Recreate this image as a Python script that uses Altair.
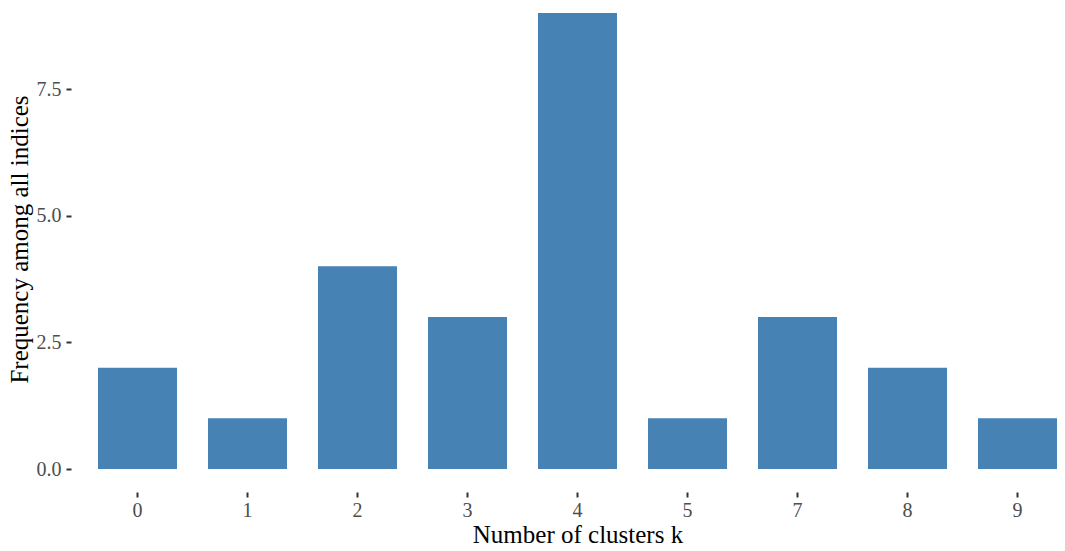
import altair as alt
import pandas as pd

categories = ["0", "1", "2", "3", "4", "5", "7", "8", "9"]
frequencies = [2, 1, 4, 3, 9, 1, 3, 2, 1]
y_ticks = [0, 2.5, 5, 7.5]

df = pd.DataFrame({"k": categories, "freq": frequencies})

FONT = "Liberation Serif"

chart = alt.Chart(df).mark_bar(color="#4682B4").encode(
    x=alt.X(
        "k:N",
        sort=categories,
        title="Number of clusters k",
        scale=alt.Scale(paddingInner=0.2818, paddingOuter=0),
        axis=alt.Axis(
            labelAngle=0, offset=23, tickSize=5, tickWidth=2, tickColor="#333333",
            domain=False, grid=False, labelFont=FONT, labelFontSize=20,
            labelColor="#4D4D4D", labelPadding=3, titleFont=FONT, titleFontSize=25,
            titleFontWeight="normal", titleColor="#000000", titlePadding=2,
        ),
    ),
    y=alt.Y(
        "freq:Q",
        title="Frequency among all indices",
        scale=alt.Scale(domain=[0, 9], nice=False, zero=True),
        axis=alt.Axis(
            values=y_ticks, format=".1f", offset=27, tickSize=5, tickWidth=2,
            tickColor="#333333", domain=False, grid=False, labelFont=FONT,
            labelFontSize=20, labelColor="#4D4D4D", labelPadding=5,
            titleFont=FONT, titleFontSize=25, titleFontWeight="normal",
            titleColor="#000000", titleAngle=270, titleX=-44, titleY=226,
            titleAlign="center", titleBaseline="alphabetic",
        ),
    ),
).properties(
    width=959,
    height=456,
    autosize=alt.AutoSizeParams(type="none"),
    padding={"left": 90, "top": 5, "right": 0, "bottom": 80},
).configure_view(stroke=None)

chart.save("out.html", embed_options={"renderer": "svg", "actions": False})
